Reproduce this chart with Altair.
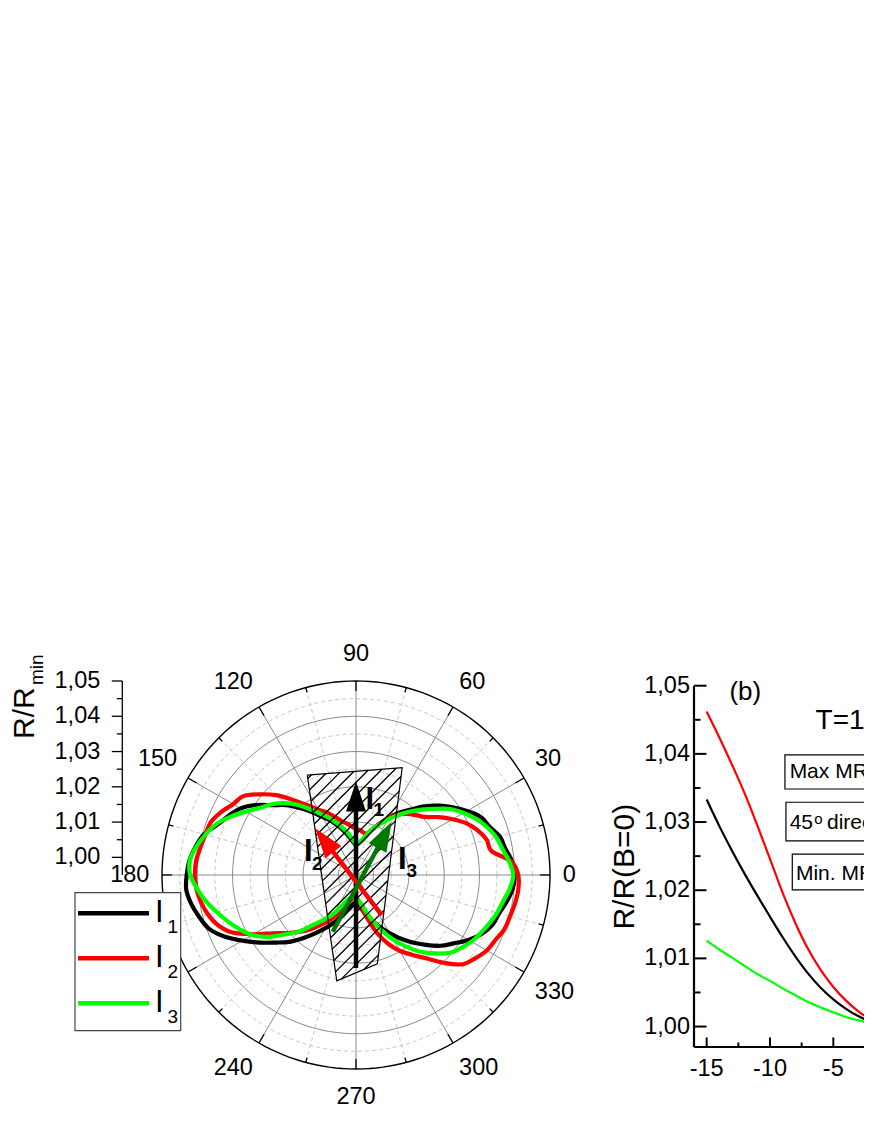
import altair as alt
import numpy as np
import pandas as pd

# ======================= DATA =======================
# ---- panel (a): polar plot of R/Rmin versus field angle ----
ANGLE_DEG = list(range(0, 360, 5))
I1_VALUES = [1.0400, 1.0394, 1.0380, 1.0372, 1.0352, 1.0340, 1.0313, 1.0284, 1.0256, 1.0225,
             1.0192, 1.0166, 1.0138, 1.0112, 1.0088, 1.0066, 1.0050, 1.0040, 1.0036, 1.0044,
             1.0060, 1.0078, 1.0098, 1.0120, 1.0140, 1.0168, 1.0198, 1.0230, 1.0258, 1.0296,
             1.0328, 1.0348, 1.0368, 1.0396, 1.0412, 1.0424, 1.0430, 1.0433, 1.0424, 1.0410,
             1.0394, 1.0362, 1.0322, 1.0284, 1.0248, 1.0218, 1.0184, 1.0152, 1.0124, 1.0100,
             1.0078, 1.0058, 1.0044, 1.0034, 1.0030, 1.0036, 1.0050, 1.0070, 1.0090, 1.0114,
             1.0140, 1.0170, 1.0200, 1.0230, 1.0262, 1.0288, 1.0318, 1.0344, 1.0362, 1.0370,
             1.0384, 1.0396]
I2_VALUES = [1.0410, 1.0392, 1.0340, 1.0334, 1.0318, 1.0296, 1.0266, 1.0236, 1.0206, 1.0190,
             1.0176, 1.0160, 1.0136, 1.0110, 1.0090, 1.0072, 1.0072, 1.0078, 1.0080, 1.0088,
             1.0098, 1.0108, 1.0126, 1.0146, 1.0164, 1.0192, 1.0228, 1.0270, 1.0306, 1.0340,
             1.0352, 1.0372, 1.0388, 1.0392, 1.0398, 1.0405, 1.0407, 1.0404, 1.0396, 1.0384,
             1.0366, 1.0336, 1.0286, 1.0238, 1.0206, 1.0178, 1.0152, 1.0122, 1.0098, 1.0072,
             1.0050, 1.0032, 1.0018, 1.0010, 1.0010, 1.0022, 1.0045, 1.0080, 1.0125, 1.0165,
             1.0198, 1.0226, 1.0258, 1.0302, 1.0344, 1.0362, 1.0378, 1.0386, 1.0398, 1.0402,
             1.0408, 1.0412]
I3_VALUES = [1.0396, 1.0386, 1.0372, 1.0362, 1.0346, 1.0326, 1.0302, 1.0276, 1.0242, 1.0212,
             1.0184, 1.0156, 1.0132, 1.0108, 1.0090, 1.0068, 1.0052, 1.0040, 1.0038, 1.0050,
             1.0068, 1.0086, 1.0106, 1.0128, 1.0150, 1.0178, 1.0210, 1.0238, 1.0262, 1.0282,
             1.0310, 1.0342, 1.0372, 1.0392, 1.0410, 1.0423, 1.0420, 1.0402, 1.0382, 1.0358,
             1.0336, 1.0314, 1.0290, 1.0256, 1.0212, 1.0176, 1.0132, 1.0102, 1.0076, 1.0048,
             1.0028, 1.0018, 1.0014, 1.0014, 1.0016, 1.0022, 1.0032, 1.0056, 1.0086, 1.0124,
             1.0162, 1.0198, 1.0234, 1.0264, 1.0294, 1.0312, 1.0328, 1.0340, 1.0352, 1.0364,
             1.0374, 1.0388]
SERIES_NAMES = ["I1", "I2", "I3"]
SERIES_SUBS = ["1", "2", "3"]
SERIES_COLORS = ["#000000", "#ff0000", "#00ff00"]

RADIAL_TICKS = [1.00, 1.01, 1.02, 1.03, 1.04, 1.05]
RADIAL_TICK_LABELS = ["1,00", "1,01", "1,02", "1,03", "1,04", "1,05"]
RADIAL_MINOR = [1.005, 1.015, 1.025, 1.035, 1.045]
SOLID_RINGS = [1.00, 1.01, 1.02, 1.03, 1.04]
DASHED_RINGS = [1.005, 1.015, 1.025, 1.035, 1.045]
ANGLE_TICKS = list(range(0, 360, 30))
ANGLE_MINOR = list(range(15, 360, 30))
ANGLE_LABELS = [str(a) for a in ANGLE_TICKS]

# sketch of the sample: hatched sector and current directions (polar coords)
SECTOR_ANGLE = [116.0, 66.7, 283.5, 259.7]
SECTOR_VALUE = [1.0265, 1.0281, 1.0209, 1.0255]
ARROW_NAMES = ["I1", "I2", "I3"]
ARROW_COLORS = ["#000000", "#ff0000", "#007800"]
ARROW_TAIL_ANGLE = [270.0, 302.7, 247.7]
ARROW_TAIL_VALUE = [1.0214, 1.0085, 1.0124]
ARROW_TIP_ANGLE = [90.0, 131.3, 56.2]
ARROW_TIP_VALUE = [1.0215, 1.0126, 1.0132]

# ---- panel (b): R/R(B=0) versus field ----
B_FIELD = list(range(-15, 16))
MR_RED = [1.0462, 1.0424, 1.0384, 1.0342, 1.0295, 1.0246, 1.0196, 1.0152, 1.0114, 1.0083,
          1.0058, 1.0038, 1.0022, 1.0010, 1.0003, 1.0000, 1.0003, 1.0010, 1.0022, 1.0038,
          1.0058, 1.0083, 1.0114, 1.0152, 1.0196, 1.0246, 1.0295, 1.0342, 1.0384, 1.0424,
          1.0462]
MR_BLACK = [1.0333, 1.0294, 1.0258, 1.0224, 1.0192, 1.0161, 1.0131, 1.0103, 1.0078, 1.0057,
            1.0040, 1.0026, 1.0015, 1.0007, 1.0002, 1.0000, 1.0002, 1.0007, 1.0015, 1.0026,
            1.0040, 1.0057, 1.0078, 1.0103, 1.0131, 1.0161, 1.0192, 1.0224, 1.0258, 1.0294,
            1.0333]
MR_GREEN = [1.0126, 1.0113, 1.0101, 1.0089, 1.0077, 1.0067, 1.0056, 1.0046, 1.0036, 1.0028,
            1.0021, 1.0014, 1.0009, 1.0005, 1.0001, 1.0000, 1.0001, 1.0005, 1.0009, 1.0014,
            1.0021, 1.0028, 1.0036, 1.0046, 1.0056, 1.0067, 1.0077, 1.0089, 1.0101, 1.0113,
            1.0126]
B_Y_TICKS = [1.00, 1.01, 1.02, 1.03, 1.04, 1.05]
B_Y_LABELS = ["1,00", "1,01", "1,02", "1,03", "1,04", "1,05"]
B_Y_MINOR = [1.005, 1.015, 1.025, 1.035, 1.045]
B_X_TICKS = [-15, -10, -5, 0, 5, 10, 15]
B_X_LABELS = ["-15", "-10", "-5", "0", "5", "10", "15"]
B_X_MINOR = [-12.5, -7.5, -2.5, 2.5, 7.5, 12.5]
BOX_TEXTS = ["Max MR direction", "45", "Min. MR direction"]

# ======================= LAYOUT =======================
FONT = "Liberation Sans"
TICK_FS = 23.5
W, H = 856, 1112
CENTER_VALUE = 0.995
OUTER_VALUE = 1.05
RSPAN = OUTER_VALUE - CENTER_VALUE
CX, CY, RPIX = 348.0, 867.0, 194.0
K = RSPAN / RPIX  # polar data units per pixel


def sc(domain, rng):
    return alt.Scale(domain=domain, range=rng, nice=False, zero=False)


def PX(field):
    return alt.X(f"{field}:Q", scale=sc([-RSPAN, RSPAN], [CX - RPIX, CX + RPIX]), axis=None)


def PY(field):
    return alt.Y(f"{field}:Q", scale=sc([-RSPAN, RSPAN], [CY + RPIX, CY - RPIX]), axis=None)


def polar_calc(ch, vfield="value", afield="angle", ox="px", oy="py"):
    return ch.transform_calculate(**{
        ox: f"(datum.{vfield} - {CENTER_VALUE}) * cos(datum.{afield} * PI / 180)",
        oy: f"(datum.{vfield} - {CENTER_VALUE}) * sin(datum.{afield} * PI / 180)",
    })


layers = []

# ---- polar grid ----
def ring_layer(rings, color, dash, width):
    df = pd.DataFrame([{"ring": r, "angle": a, "value": r} for r in rings for a in range(0, 361, 2)])
    kw = dict(color=color, strokeWidth=width)
    if dash:
        kw["strokeDash"] = dash
    ch = alt.Chart(df).mark_line(**kw)
    ch = polar_calc(ch)
    return ch.encode(x=PX("px"), y=PY("py"), detail="ring:N", order="angle:Q")


layers.append(ring_layer(DASHED_RINGS, "#c8c8c8", [4, 3], 1))
layers.append(ring_layer(SOLID_RINGS, "#8a8a8a", None, 1))


def spoke_layer(angles, color, dash, width):
    df = pd.DataFrame({"angle": angles, "value": OUTER_VALUE, "c": CENTER_VALUE})
    kw = dict(color=color, strokeWidth=width)
    if dash:
        kw["strokeDash"] = dash
    ch = alt.Chart(df).mark_rule(**kw)
    ch = polar_calc(ch)
    ch = polar_calc(ch, vfield="c", ox="x0", oy="y0")
    return ch.encode(x=PX("x0"), y=PY("y0"), x2="px:Q", y2="py:Q")


layers.append(spoke_layer(ANGLE_MINOR, "#c8c8c8", [4, 3], 1))
layers.append(spoke_layer(ANGLE_TICKS, "#8a8a8a", None, 1))
layers.append(ring_layer([OUTER_VALUE], "#000000", None, 1.4))


def angle_tick_layer(angles, length):
    df = pd.DataFrame({"angle": angles, "value": OUTER_VALUE, "inner": OUTER_VALUE - length * K})
    ch = alt.Chart(df).mark_rule(color="#000000", strokeWidth=1.3)
    ch = polar_calc(ch)
    ch = polar_calc(ch, vfield="inner", ox="ix", oy="iy")
    return ch.encode(x=PX("px"), y=PY("py"), x2="ix:Q", y2="iy:Q")


layers.append(angle_tick_layer(ANGLE_TICKS, 10))
layers.append(angle_tick_layer(ANGLE_MINOR, 5))

# angle labels: label box corner sits on a circle just outside the plot
lab_df = pd.DataFrame({"angle": ANGLE_TICKS, "label": ANGLE_LABELS})
lab = alt.Chart(lab_df).mark_text(font=FONT, fontSize=TICK_FS, align="center", baseline="middle", color="#000")
lab = lab.transform_calculate(
    ca="cos(datum.angle*PI/180)", sa="sin(datum.angle*PI/180)",
).transform_calculate(
    sgx="abs(datum.ca) < 0.01 ? 0 : (datum.ca > 0 ? 1 : -1)",
    sgy="abs(datum.sa) < 0.01 ? 0 : (datum.sa > 0 ? 1 : -1)",
).transform_calculate(
    lx=f"(207 * datum.ca + datum.sgx * 6.4 * length(datum.label)) * {K}",
    ly=f"(210 * datum.sa + datum.sgy * 11.5) * {K}",
)
layers.append(lab.encode(x=PX("lx"), y=PY("ly"), text="label:N"))

# ---- measured curves ----
for name, vals, col in zip(SERIES_NAMES, [I1_VALUES, I2_VALUES, I3_VALUES], SERIES_COLORS):
    df = pd.DataFrame({"angle": ANGLE_DEG, "value": vals})
    ch = polar_calc(alt.Chart(df).mark_line(color=col, strokeWidth=4.2, interpolate="cardinal-closed"))
    layers.append(ch.encode(x=PX("px"), y=PY("py"), order="angle:Q"))

# ---- hatched sample sketch ----
sec_pts = [((v - CENTER_VALUE) * np.cos(np.radians(a)), (v - CENTER_VALUE) * np.sin(np.radians(a)))
           for a, v in zip(SECTOR_ANGLE, SECTOR_VALUE)]
dvals = [y - x for x, y in sec_pts]
step = 13.0 * K
hatch = []
for c in np.arange(min(dvals) + step * 0.6, max(dvals), step):
    pts = []
    for i in range(len(sec_pts)):
        (x1, y1), (x2, y2) = sec_pts[i], sec_pts[(i + 1) % len(sec_pts)]
        f1, f2 = y1 - x1 - c, y2 - x2 - c
        if f1 == f2:
            continue
        if (f1 <= 0 <= f2) or (f2 <= 0 <= f1):
            t = f1 / (f1 - f2)
            pts.append((x1 + t * (x2 - x1), y1 + t * (y2 - y1)))
    if len(pts) >= 2:
        pts.sort()
        hatch.append({"hx": pts[0][0], "hy": pts[0][1], "hx2": pts[-1][0], "hy2": pts[-1][1]})
layers.append(alt.Chart(pd.DataFrame(hatch)).mark_rule(color="#000", strokeWidth=1.3).encode(
    x=PX("hx"), y=PY("hy"), x2="hx2:Q", y2="hy2:Q"))
outline = pd.DataFrame({"angle": SECTOR_ANGLE + SECTOR_ANGLE[:1],
                        "value": SECTOR_VALUE + SECTOR_VALUE[:1],
                        "k": list(range(len(SECTOR_ANGLE) + 1))})
layers.append(polar_calc(alt.Chart(outline).mark_line(color="#000", strokeWidth=1.2)).encode(
    x=PX("px"), y=PY("py"), order="k:Q"))

# ---- current arrows ----
arrows = []
for name, col, ta, tv, ha, hv in zip(ARROW_NAMES, ARROW_COLORS, ARROW_TAIL_ANGLE, ARROW_TAIL_VALUE,
                                     ARROW_TIP_ANGLE, ARROW_TIP_VALUE):
    tx, ty = (tv - CENTER_VALUE) * np.cos(np.radians(ta)), (tv - CENTER_VALUE) * np.sin(np.radians(ta))
    hx, hy = (hv - CENTER_VALUE) * np.cos(np.radians(ha)), (hv - CENTER_VALUE) * np.sin(np.radians(ha))
    L = np.hypot(hx - tx, hy - ty)
    ux, uy = (hx - tx) / L, (hy - ty) / L
    arrows.append({"name": name, "tx": tx, "ty": ty,
                   "sx": hx - ux * 24 * K, "sy": hy - uy * 24 * K,
                   "cx": hx - ux * 15 * K, "cy": hy - uy * 15 * K,
                   "rot": (90 - np.degrees(np.arctan2(uy, ux))) % 360})
arr_df = pd.DataFrame(arrows)
acol = alt.Color("name:N", scale=alt.Scale(domain=ARROW_NAMES, range=ARROW_COLORS), legend=None)
layers.append(alt.Chart(arr_df).mark_rule(strokeWidth=4.5).encode(
    x=PX("tx"), y=PY("ty"), x2="sx:Q", y2="sy:Q", color=acol))
layers.append(alt.Chart(arr_df).mark_point(shape="M0,-1L0.667,1L-0.667,1Z", filled=True, size=900,
                                           opacity=1, strokeWidth=0).encode(
    x=PX("cx"), y=PY("cy"), color=acol, angle=alt.Angle("rot:Q", scale=None)))

# arrow labels (bold I with subscript), positions in polar units (pixels from centre)
ARROW_LABEL_POS = {"I1": ((9.5, 66.0), (17.5, 59.0)),
                   "I2": ((-52.0, 14.5), (-44.0, 5.0)),
                   "I3": ((42.0, 6.5), (50.5, -2.0))}
lab_rows, sub_rows = [], []
for name, sub in zip(SERIES_NAMES, SERIES_SUBS):
    (ix, iy), (sx_, sy_) = ARROW_LABEL_POS[name]
    lab_rows.append({"x": ix * K, "y": iy * K, "t": "I"})
    sub_rows.append({"x": sx_ * K, "y": sy_ * K, "t": sub})
layers.append(alt.Chart(pd.DataFrame(lab_rows)).mark_text(
    font=FONT, fontSize=31, fontWeight="bold", align="left", baseline="alphabetic", color="#000").encode(
    x=PX("x"), y=PY("y"), text="t:N"))
layers.append(alt.Chart(pd.DataFrame(sub_rows)).mark_text(
    font=FONT, fontSize=19, fontWeight="bold", align="left", baseline="alphabetic", color="#000").encode(
    x=PX("x"), y=PY("y"), text="t:N"))

# ---- radial axis on the left ----
AX_X = 114.3
RY = sc([CENTER_VALUE, OUTER_VALUE], [CY, CY - RPIX])
layers.append(alt.Chart(pd.DataFrame({"a": [CENTER_VALUE], "b": [OUTER_VALUE]})).mark_rule(
    color="#000", strokeWidth=1.3).encode(x=alt.value(AX_X), y=alt.Y("a:Q", scale=RY, axis=None), y2="b:Q"))
layers.append(alt.Chart(pd.DataFrame({"v": RADIAL_TICKS})).mark_rule(color="#000", strokeWidth=1.3).encode(
    x=alt.value(AX_X - 10.5), x2=alt.value(AX_X), y=alt.Y("v:Q", scale=RY, axis=None)))
layers.append(alt.Chart(pd.DataFrame({"v": RADIAL_MINOR})).mark_rule(color="#000", strokeWidth=1.3).encode(
    x=alt.value(AX_X - 5.5), x2=alt.value(AX_X), y=alt.Y("v:Q", scale=RY, axis=None)))
layers.append(alt.Chart(pd.DataFrame({"v": RADIAL_TICKS, "t": RADIAL_TICK_LABELS})).mark_text(
    font=FONT, fontSize=TICK_FS, align="right", baseline="middle", color="#000").encode(
    x=alt.value(AX_X - 22), y=alt.Y("v:Q", scale=RY, axis=None), text="t:N"))
one = pd.DataFrame({"d": [0]})
layers.append(alt.Chart(one).mark_text(text="R/R", font=FONT, fontSize=30, angle=270, align="left",
                                       baseline="alphabetic", color="#000").encode(
    x=alt.value(25.5), y=alt.value(731)))
layers.append(alt.Chart(one).mark_text(text="min", font=FONT, fontSize=19, angle=270, align="left",
                                       baseline="alphabetic", color="#000").encode(
    x=alt.value(35), y=alt.value(677)))

# ---- legend box ----
layers.append(alt.Chart(one).mark_rect(fill="#ffffff", stroke="#444444", strokeWidth=1.2).encode(
    x=alt.value(67), x2=alt.value(172.7), y=alt.value(884.7), y2=alt.value(1022.7)))
leg = pd.DataFrame({"name": SERIES_NAMES, "sub": SERIES_SUBS, "row": [0, 1, 2]})
lcol = alt.Color("name:N", scale=alt.Scale(domain=SERIES_NAMES, range=SERIES_COLORS), legend=None)
LEG_Y = alt.Scale(domain=[0, 2], range=[905.3, 995.3], nice=False, zero=False)
layers.append(alt.Chart(leg).mark_rule(strokeWidth=4.5).encode(
    x=alt.value(70), x2=alt.value(141), y=alt.Y("row:Q", scale=LEG_Y, axis=None), color=lcol))
layers.append(alt.Chart(leg).mark_text(text="I", font=FONT, fontSize=31, align="left",
                                       baseline="middle", color="#000").encode(
    x=alt.value(147), y=alt.Y("row:Q", scale=LEG_Y, axis=None)))
layers.append(alt.Chart(leg).mark_text(font=FONT, fontSize=19, align="left",
                                       baseline="middle", dy=14, color="#000").encode(
    x=alt.value(159.5), y=alt.Y("row:Q", scale=LEG_Y, axis=None), text="sub:N"))

# ======================= PANEL (b) =======================
QX = sc([-16, 16], [686, 1091.3])
QY = sc([0.997, 1.05], [1039, 677.7])


def QXE(f):
    return alt.X(f"{f}:Q", scale=QX, axis=None)


def QYE(f):
    return alt.Y(f"{f}:Q", scale=QY, axis=None)


for vals, col in zip([MR_GREEN, MR_BLACK, MR_RED], ["#00ff00", "#000000", "#ff0000"]):
    df = pd.DataFrame({"B": B_FIELD, "v": vals})
    layers.append(alt.Chart(df).mark_line(color=col, strokeWidth=2.2, interpolate="monotone").encode(
        x=QXE("B"), y=QYE("v")))

# axes
layers.append(alt.Chart(pd.DataFrame({"x": [-16], "a": [0.997], "b": [1.05]})).mark_rule(
    color="#000", strokeWidth=2.2).encode(x=QXE("x"), y=QYE("a"), y2="b:Q"))
layers.append(alt.Chart(pd.DataFrame({"y": [0.997], "a": [-16], "b": [16]})).mark_rule(
    color="#000", strokeWidth=2.2).encode(y=QYE("y"), x=QXE("a"), x2="b:Q"))
layers.append(alt.Chart(pd.DataFrame({"v": B_Y_TICKS})).mark_rule(color="#000", strokeWidth=2).encode(
    x=alt.value(686), x2=alt.value(698.5), y=QYE("v")))
layers.append(alt.Chart(pd.DataFrame({"v": B_Y_MINOR})).mark_rule(color="#000", strokeWidth=2).encode(
    x=alt.value(686), x2=alt.value(692.5), y=QYE("v")))
layers.append(alt.Chart(pd.DataFrame({"v": B_X_TICKS})).mark_rule(color="#000", strokeWidth=2).encode(
    x=QXE("v"), y=alt.value(1039), y2=alt.value(1029.5)))
layers.append(alt.Chart(pd.DataFrame({"v": B_X_MINOR})).mark_rule(color="#000", strokeWidth=2).encode(
    x=QXE("v"), y=alt.value(1039), y2=alt.value(1034.5)))
layers.append(alt.Chart(pd.DataFrame({"v": B_Y_TICKS, "t": B_Y_LABELS})).mark_text(
    font=FONT, fontSize=TICK_FS, align="right", baseline="middle", color="#000").encode(
    x=alt.value(682), y=QYE("v"), text="t:N"))
layers.append(alt.Chart(pd.DataFrame({"v": B_X_TICKS, "t": B_X_LABELS})).mark_text(
    font=FONT, fontSize=TICK_FS, align="center", baseline="middle", color="#000").encode(
    x=QXE("v"), y=alt.value(1060.5), text="t:N"))
layers.append(alt.Chart(one).mark_text(text="R/R(B=0)", font=FONT, fontSize=30, angle=270,
                                       align="center", baseline="alphabetic", color="#000").encode(
    x=alt.value(625.5), y=alt.value(858.7)))
layers.append(alt.Chart(one).mark_text(text="B (T)", font=FONT, fontSize=30, align="left",
                                       baseline="alphabetic", color="#000").encode(
    x=alt.value(858), y=alt.value(1097)))

# annotations in panel (b) data coordinates
ANN = pd.DataFrame({"B": [-13.2, -6.4], "v": [1.0479, 1.0437], "t": ["(b)", "T=10 K"], "fs": [26, 28]})
for _, r in ANN.iterrows():
    layers.append(alt.Chart(pd.DataFrame([r])).mark_text(
        font=FONT, fontSize=int(r["fs"]), align="left", baseline="alphabetic", color="#000").encode(
        x=QXE("B"), y=QYE("v"), text="t:N"))

BOXES = pd.DataFrame({"x0": [-8.82, -8.74, -8.24], "x1": [16, 16, 16],
                      "y0": [1.03984, 1.0329, 1.02528], "y1": [1.03485, 1.02723, 1.02004]})
layers.append(alt.Chart(BOXES).mark_rect(fill="#ffffff", stroke="#000", strokeWidth=1.2).encode(
    x=QXE("x0"), x2="x1:Q", y=QYE("y0"), y2="y1:Q"))
BOX_TXT = pd.DataFrame({"B": [-8.45, -8.45, -7.95], "v": [1.03642, 1.02899, 1.02151],
                        "t": BOX_TEXTS})
layers.append(alt.Chart(BOX_TXT).mark_text(font=FONT, fontSize=21, align="left", baseline="alphabetic",
                                           color="#000").encode(x=QXE("B"), y=QYE("v"), text="t:N"))
DEG = pd.DataFrame({"B": [-6.5, -5.5], "v": [1.02972, 1.02899], "t": ["o", "direction"], "fs": [15, 21]})
for _, r in DEG.iterrows():
    layers.append(alt.Chart(pd.DataFrame([r])).mark_text(
        font=FONT, fontSize=int(r["fs"]), align="left", baseline="alphabetic", color="#000").encode(
        x=QXE("B"), y=QYE("v"), text="t:N"))

chart = alt.layer(*layers).resolve_scale(
    x="independent", y="independent", color="independent"
).properties(
    width=W, height=H, padding=0, autosize=alt.AutoSizeParams(type="none")
).configure_view(strokeWidth=0)

chart.save("out.html", embed_options={"renderer": "svg", "actions": False})
